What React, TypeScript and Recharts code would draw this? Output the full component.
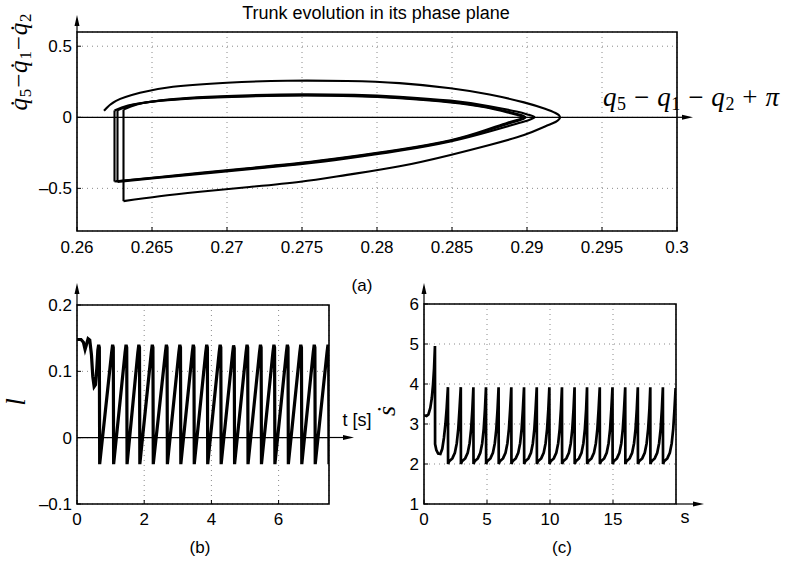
import React from 'react';
import { LineChart, Line, XAxis, YAxis, CartesianGrid, ReferenceLine, ReferenceArea } from 'recharts';

// ---------- (a) phase plane ----------
const phaseTicksX = [0.26, 0.265, 0.27, 0.275, 0.28, 0.285, 0.29, 0.295, 0.3];
const phaseTicksY = [-0.5, 0, 0.5];

const outerLoop = [
  [0.2618, 0.046], [0.2626, 0.115], [0.2642, 0.172], [0.2664, 0.215], [0.27, 0.243], [0.274, 0.257],
  [0.278, 0.255], [0.2815, 0.24], [0.2849, 0.204], [0.2875, 0.16], [0.2898, 0.105], [0.2912, 0.06],
  [0.2919, 0.03], [0.2922, 0.0], [0.2919, -0.033], [0.2912, -0.065], [0.2898, -0.125], [0.2875, -0.195],
  [0.2849, -0.265], [0.2815, -0.345], [0.278, -0.405], [0.2749, -0.453], [0.2715, -0.49], [0.2682, -0.524],
  [0.2655, -0.555], [0.2631, -0.59],
];
const vertical1 = [[0.2631, -0.59], [0.2631, 0.055]];
const loopB = [
  [0.2631, 0.055], [0.264, 0.09], [0.2655, 0.118], [0.268, 0.14], [0.2715, 0.155], [0.275, 0.162],
  [0.2785, 0.158], [0.2815, 0.145], [0.2849, 0.117], [0.2875, 0.078], [0.2893, 0.04], [0.2901, 0.018],
  [0.2905, 0.0], [0.2901, -0.02], [0.2893, -0.045], [0.2875, -0.1], [0.2849, -0.17], [0.2815, -0.236],
  [0.278, -0.29], [0.2749, -0.33], [0.2715, -0.365], [0.2682, -0.398], [0.2655, -0.425], [0.2627, -0.455],
];
const vertical2 = [[0.2627, -0.455], [0.2627, 0.05]];
const loopA = [
  [0.2627, 0.05], [0.2636, 0.085], [0.2652, 0.113], [0.2678, 0.136], [0.2715, 0.15], [0.275, 0.156],
  [0.2785, 0.152], [0.2815, 0.138], [0.2849, 0.108], [0.2873, 0.072], [0.2889, 0.036], [0.2896, 0.016],
  [0.2899, 0.0], [0.2896, -0.018], [0.2889, -0.04], [0.2873, -0.095], [0.2849, -0.165], [0.2815, -0.23],
  [0.278, -0.283], [0.2749, -0.324], [0.2715, -0.36], [0.2682, -0.394], [0.2655, -0.422], [0.2625, -0.452],
];
const vertical3 = [[0.2625, -0.452], [0.2625, 0.048]];
const loopC = [
  [0.2625, 0.048], [0.2634, 0.082], [0.265, 0.11], [0.2677, 0.133], [0.2715, 0.147], [0.275, 0.153],
  [0.2785, 0.149], [0.2815, 0.135], [0.2849, 0.105], [0.2872, 0.07], [0.2887, 0.034], [0.2894, 0.015],
  [0.2897, 0.0], [0.2894, -0.017], [0.2887, -0.038], [0.2872, -0.092], [0.2849, -0.162], [0.2815, -0.227],
  [0.278, -0.28], [0.2749, -0.321], [0.2715, -0.357], [0.2682, -0.391], [0.2655, -0.42], [0.2626, -0.45],
];

// ---------- (b) l(t) ----------
const lTicksX = [0, 2, 4, 6];
const lTicksY = [-0.1, 0, 0.1, 0.2];
const lCurve = [
  [0, 0.148], [0.12, 0.148], [0.19, 0.144], [0.24, 0.133], [0.28, 0.14], [0.33, 0.149], [0.38, 0.147],
  [0.43, 0.125], [0.47, 0.092], [0.51, 0.077], [0.55, 0.08], [0.59, 0.105], [0.62, 0.132], [0.645, 0.14],
  [0.665, 0.136], [0.675, -0.04],
  [1.03, 0.128], [1.06, 0.14], [1.08, 0.136], [1.09, -0.04],
  [1.43, 0.128], [1.46, 0.14], [1.48, 0.136], [1.49, -0.04],
  [1.81, 0.128], [1.84, 0.14], [1.86, 0.136], [1.87, -0.04],
  [2.21, 0.128], [2.24, 0.14], [2.26, 0.136], [2.27, -0.04],
  [2.63, 0.128], [2.66, 0.14], [2.68, 0.136], [2.69, -0.04],
  [3.03, 0.128], [3.06, 0.14], [3.08, 0.136], [3.09, -0.04],
  [3.43, 0.128], [3.46, 0.14], [3.48, 0.136], [3.49, -0.04],
  [3.83, 0.128], [3.86, 0.14], [3.88, 0.136], [3.89, -0.04],
  [4.23, 0.128], [4.26, 0.14], [4.28, 0.136], [4.29, -0.04],
  [4.63, 0.127], [4.66, 0.139], [4.68, 0.135], [4.69, -0.04],
  [5.03, 0.128], [5.06, 0.14], [5.08, 0.136], [5.09, -0.04],
  [5.43, 0.128], [5.46, 0.14], [5.48, 0.136], [5.49, -0.04],
  [5.83, 0.128], [5.86, 0.14], [5.88, 0.136], [5.89, -0.04],
  [6.23, 0.128], [6.26, 0.14], [6.28, 0.136], [6.29, -0.04],
  [6.63, 0.128], [6.66, 0.14], [6.68, 0.136], [6.69, -0.04],
  [7.03, 0.128], [7.06, 0.14], [7.08, 0.136], [7.09, -0.04],
  [7.44, 0.128], [7.47, 0.14], [7.49, 0.136], [7.5, -0.04],
];

// ---------- (c) sdot(s) ----------
const sTicksX = [0, 5, 10, 15];
const sTicksY = [1, 2, 3, 4, 5, 6];
const sdotCurve = [
  [0, 3.22], [0.2, 3.2], [0.35, 3.24], [0.5, 3.4], [0.62, 3.65], [0.72, 4.0], [0.8, 4.4], [0.87, 4.95],
  [0.88, 2.5], [0.98, 2.35], [1.12, 2.26], [1.3, 2.25], [1.45, 2.38], [1.58, 2.65], [1.7, 3.0], [1.8, 3.4],
  [1.9, 3.92], [1.91, 2.0],
  [2.0, 2.07], [2.25, 2.14], [2.45, 2.28], [2.6, 2.52], [2.72, 2.88], [2.82, 3.38], [2.92, 3.92], [2.93, 2.0],
  [3.02, 2.07], [3.27, 2.14], [3.47, 2.28], [3.62, 2.52], [3.74, 2.88], [3.84, 3.38], [3.92, 3.92], [3.93, 2.0],
  [4.02, 2.07], [4.27, 2.14], [4.47, 2.28], [4.62, 2.52], [4.74, 2.88], [4.84, 3.38], [4.92, 3.92], [4.93, 2.0],
  [5.02, 2.07], [5.27, 2.14], [5.47, 2.28], [5.62, 2.52], [5.74, 2.88], [5.84, 3.38], [5.92, 3.92], [5.93, 2.0],
  [6.02, 2.07], [6.27, 2.14], [6.47, 2.28], [6.62, 2.52], [6.74, 2.88], [6.84, 3.38], [6.93, 3.92], [6.94, 2.0],
  [7.03, 2.07], [7.28, 2.14], [7.48, 2.28], [7.63, 2.52], [7.75, 2.88], [7.85, 3.38], [7.94, 3.92], [7.95, 2.0],
  [8.04, 2.07], [8.29, 2.14], [8.49, 2.28], [8.64, 2.52], [8.76, 2.88], [8.86, 3.38], [8.95, 3.92], [8.96, 2.0],
  [9.05, 2.07], [9.3, 2.14], [9.5, 2.28], [9.65, 2.52], [9.77, 2.88], [9.87, 3.38], [9.95, 3.92], [9.96, 2.0],
  [10.05, 2.07], [10.3, 2.14], [10.5, 2.28], [10.65, 2.52], [10.77, 2.88], [10.87, 3.38], [10.95, 3.92], [10.96, 2.0],
  [11.05, 2.07], [11.3, 2.14], [11.5, 2.28], [11.65, 2.52], [11.77, 2.88], [11.87, 3.38], [11.95, 3.92], [11.96, 2.0],
  [12.05, 2.07], [12.3, 2.14], [12.5, 2.28], [12.65, 2.52], [12.77, 2.88], [12.87, 3.38], [12.94, 3.92], [12.95, 2.0],
  [13.04, 2.07], [13.29, 2.14], [13.49, 2.28], [13.64, 2.52], [13.76, 2.88], [13.86, 3.38], [13.95, 3.92], [13.96, 2.0],
  [14.05, 2.07], [14.3, 2.14], [14.5, 2.28], [14.65, 2.52], [14.77, 2.88], [14.87, 3.38], [14.96, 3.92], [14.97, 2.0],
  [15.06, 2.07], [15.31, 2.14], [15.51, 2.28], [15.66, 2.52], [15.78, 2.88], [15.88, 3.38], [15.97, 3.92], [15.98, 2.0],
  [16.07, 2.07], [16.32, 2.14], [16.52, 2.28], [16.67, 2.52], [16.79, 2.88], [16.89, 3.38], [16.97, 3.92], [16.98, 2.0],
  [17.07, 2.07], [17.32, 2.14], [17.52, 2.28], [17.67, 2.52], [17.79, 2.88], [17.89, 3.38], [17.96, 3.92], [17.97, 2.0],
  [18.06, 2.07], [18.31, 2.14], [18.51, 2.28], [18.66, 2.52], [18.78, 2.88], [18.88, 3.38], [18.96, 3.92], [18.97, 2.0],
  [19.06, 2.07], [19.31, 2.14], [19.51, 2.28], [19.66, 2.52], [19.78, 2.88], [19.88, 3.38], [19.97, 3.9],
];

const pts = (a: number[][]) => a.map(([x, y]) => ({ x, y }));

const SANS = '"Liberation Sans", Arial, Helvetica, sans-serif';
const SERIF = '"Liberation Serif", "DejaVu Serif", serif';
const tickStyle = { fontFamily: SANS, fontSize: 17, fill: '#000' };
const fmt = (v: number) => String(v).replace('-', '\u2013');
const GRID = { stroke: '#8a8a8a', strokeDasharray: '1 4' };
const LW_A = 2.1;

export default function App() {
  return (
    <div style={{ position: 'absolute', left: 0, top: 0, width: 785, height: 562, background: '#fff' }}>
      {/* (a) */}
      <div style={{ position: 'absolute', left: 0, top: 0 }}>
        <LineChart width={785} height={262} margin={{ top: 32, right: 108, bottom: 0, left: 27 }}>
          <CartesianGrid {...GRID} />
          <XAxis type="number" dataKey="x" domain={[0.26, 0.3]} ticks={phaseTicksX} interval={0} allowDataOverflow
            height={31} axisLine={false} tickSize={-4} tickMargin={14} tick={tickStyle} fontSize={17} tickLine={{ stroke: '#000' }} />
          <XAxis xAxisId="top" orientation="top" type="number" domain={[0.26, 0.3]} ticks={phaseTicksX} interval={0}
            allowDataOverflow height={0} axisLine={false} tick={false} tickSize={-4} tickLine={{ stroke: '#000' }} />
          <YAxis type="number" dataKey="y" domain={[-0.8, 0.6]} ticks={phaseTicksY} interval={0} allowDataOverflow
            width={50} axisLine={false} tickSize={-4} tickMargin={9} tick={tickStyle} fontSize={17} tickFormatter={fmt} tickLine={{ stroke: '#000' }} />
          <YAxis yAxisId="right" orientation="right" type="number" domain={[-0.8, 0.6]} ticks={phaseTicksY} interval={0}
            allowDataOverflow width={0} axisLine={false} tick={false} tickSize={-4} tickLine={{ stroke: '#000' }} />
          <ReferenceLine y={0} stroke="#000" strokeWidth={1.2} />
          <ReferenceArea x1={0.26} x2={0.3} y1={-0.8} y2={0.6} fill="none" fillOpacity={0} stroke="#000" strokeWidth={1.6} />
          <Line data={pts(outerLoop)} dataKey="y" type="natural" stroke="#000" strokeWidth={LW_A} dot={false} isAnimationActive={false} />
          <Line data={pts(vertical1)} dataKey="y" type="linear" stroke="#000" strokeWidth={LW_A} dot={false} isAnimationActive={false} />
          <Line data={pts(loopB)} dataKey="y" type="natural" stroke="#000" strokeWidth={LW_A} dot={false} isAnimationActive={false} />
          <Line data={pts(vertical2)} dataKey="y" type="linear" stroke="#000" strokeWidth={LW_A} dot={false} isAnimationActive={false} />
          <Line data={pts(loopA)} dataKey="y" type="natural" stroke="#000" strokeWidth={LW_A} dot={false} isAnimationActive={false} />
          <Line data={pts(vertical3)} dataKey="y" type="linear" stroke="#000" strokeWidth={LW_A} dot={false} isAnimationActive={false} />
          <Line data={pts(loopC)} dataKey="y" type="natural" stroke="#000" strokeWidth={LW_A} dot={false} isAnimationActive={false} />
        </LineChart>
      </div>

      {/* (b) */}
      <div style={{ position: 'absolute', left: 0, top: 280 }}>
        <LineChart width={360} height={254} margin={{ top: 25, right: 31, bottom: 0, left: 27 }}>
          <CartesianGrid {...GRID} />
          <XAxis type="number" dataKey="x" domain={[0, 7.5]} ticks={lTicksX} interval={0} allowDataOverflow
            height={30} axisLine={false} tickSize={-4} tickMargin={13} tick={tickStyle} fontSize={17} tickLine={{ stroke: '#000' }} />
          <XAxis xAxisId="top" orientation="top" type="number" domain={[0, 7.5]} ticks={lTicksX} interval={0}
            allowDataOverflow height={0} axisLine={false} tick={false} tickSize={-4} tickLine={{ stroke: '#000' }} />
          <YAxis type="number" dataKey="y" domain={[-0.1, 0.2]} ticks={lTicksY} interval={0} allowDataOverflow
            width={50} axisLine={false} tickSize={-4} tickMargin={9} tick={tickStyle} fontSize={17} tickFormatter={fmt} tickLine={{ stroke: '#000' }} />
          <YAxis yAxisId="right" orientation="right" type="number" domain={[-0.1, 0.2]} ticks={lTicksY} interval={0}
            allowDataOverflow width={0} axisLine={false} tick={false} tickSize={-4} tickLine={{ stroke: '#000' }} />
          <ReferenceLine y={0} stroke="#000" strokeWidth={1.2} />
          <ReferenceArea x1={0} x2={7.5} y1={-0.1} y2={0.2} fill="none" fillOpacity={0} stroke="#000" strokeWidth={1.6} />
          <Line data={pts(lCurve)} dataKey="y" type="linear" stroke="#000" strokeWidth={3.2} dot={false} isAnimationActive={false} />
        </LineChart>
      </div>

      {/* (c) */}
      <div style={{ position: 'absolute', left: 374, top: 280 }}>
        <LineChart width={336} height={254} margin={{ top: 24, right: 34, bottom: 0, left: 0 }}>
          <CartesianGrid {...GRID} />
          <XAxis type="number" dataKey="x" domain={[0, 20]} ticks={sTicksX} interval={0} allowDataOverflow
            height={30} axisLine={false} tickSize={-4} tickMargin={13} tick={tickStyle} fontSize={17} tickLine={{ stroke: '#000' }} />
          <XAxis xAxisId="top" orientation="top" type="number" domain={[0, 20]} ticks={sTicksX} interval={0}
            allowDataOverflow height={0} axisLine={false} tick={false} tickSize={-4} tickLine={{ stroke: '#000' }} />
          <YAxis type="number" dataKey="y" domain={[1, 6]} ticks={sTicksY} interval={0} allowDataOverflow
            width={50} axisLine={false} tickSize={-4} tickMargin={9} tick={tickStyle} fontSize={17} tickLine={{ stroke: '#000' }} />
          <YAxis yAxisId="right" orientation="right" type="number" domain={[1, 6]} ticks={sTicksY} interval={0}
            allowDataOverflow width={0} axisLine={false} tick={false} tickSize={-4} tickLine={{ stroke: '#000' }} />
          <ReferenceArea x1={0} x2={20} y1={1} y2={6} fill="none" fillOpacity={0} stroke="#000" strokeWidth={1.6} />
          <Line data={pts(sdotCurve)} dataKey="y" type="linear" stroke="#000" strokeWidth={2.7} dot={false} isAnimationActive={false} />
        </LineChart>
      </div>

      {/* labels, arrows */}
      <svg width={785} height={562} style={{ position: 'absolute', left: 0, top: 0, pointerEvents: 'none' }}>
        <g stroke="#000" strokeWidth={1.2} fill="#000">
          <line x1={77} y1={32} x2={77} y2={24} />
          <polygon points="77,15 74.5,26 79.5,26" stroke="none" />
          <line x1={677} y1={117.3} x2={684} y2={117.3} />
          <polygon points="693,117.3 682,114.8 682,119.8" stroke="none" />
          <line x1={77} y1={305} x2={77} y2={292} />
          <polygon points="77,283 74.5,294 79.5,294" stroke="none" />
          <line x1={329} y1={437.5} x2={345} y2={437.5} />
          <polygon points="354,437.5 343,435 343,440" stroke="none" />
          <line x1={424} y1={304} x2={424} y2={292} />
          <polygon points="424,283 421.5,294 426.5,294" stroke="none" />
          <line x1={676} y1={504} x2={694} y2={504} />
          <polygon points="704,504 693,501.5 693,506.5" stroke="none" />
        </g>

        <text x={376} y={19} textAnchor="middle" fontFamily={SANS} fontSize={18} fill="#000">
          Trunk evolution in its phase plane
        </text>

        <text x={603} y={106} fontFamily={SERIF} fontSize={27} fill="#000" textLength={176} lengthAdjust="spacing">
          <tspan fontStyle="italic">q</tspan>
          <tspan fontSize={18} dy={4}>5</tspan>
          <tspan dy={-4}>{' \u2212 '}</tspan>
          <tspan fontStyle="italic">q</tspan>
          <tspan fontSize={18} dy={4}>1</tspan>
          <tspan dy={-4}>{' \u2212 '}</tspan>
          <tspan fontStyle="italic">q</tspan>
          <tspan fontSize={18} dy={4}>2</tspan>
          <tspan dy={-4}>{' + '}</tspan>
          <tspan fontStyle="italic">{'\u03c0'}</tspan>
        </text>

        <text x={27} y={62} transform="rotate(-90 27 62)" textAnchor="middle" fontFamily={SERIF} fontSize={25}
          fill="#000" textLength={97} lengthAdjust="spacing">
          <tspan fontStyle="italic">{'q\u0307'}</tspan>
          <tspan fontSize={17} dy={4}>5</tspan>
          <tspan dy={-4}>{'\u2212'}</tspan>
          <tspan fontStyle="italic">{'q\u0307'}</tspan>
          <tspan fontSize={17} dy={4}>1</tspan>
          <tspan dy={-4}>{'\u2212'}</tspan>
          <tspan fontStyle="italic">{'q\u0307'}</tspan>
          <tspan fontSize={17} dy={4}>2</tspan>
        </text>

        <text x={362} y={291} textAnchor="middle" fontFamily={SANS} fontSize={17} fill="#000">(a)</text>
        <text x={200} y={553} textAnchor="middle" fontFamily={SANS} fontSize={17} fill="#000">(b)</text>
        <text x={562} y={553} textAnchor="middle" fontFamily={SANS} fontSize={17} fill="#000">(c)</text>

        <text x={25} y={402} transform="rotate(-90 25 402)" textAnchor="middle" fontFamily={SERIF} fontSize={27}
          fontStyle="italic" fill="#000">l</text>
        <text x={357} y={426} textAnchor="middle" fontFamily={SANS} fontSize={18} fill="#000">t [s]</text>
        <text x={395} y={411} transform="rotate(-90 395 411)" textAnchor="middle" fontFamily={SERIF} fontSize={26}
          fontStyle="italic" fill="#000">{'\u1e61'}</text>
        <text x={685} y={523} textAnchor="middle" fontFamily={SANS} fontSize={18} fill="#000">s</text>
      </svg>
    </div>
  );
}
